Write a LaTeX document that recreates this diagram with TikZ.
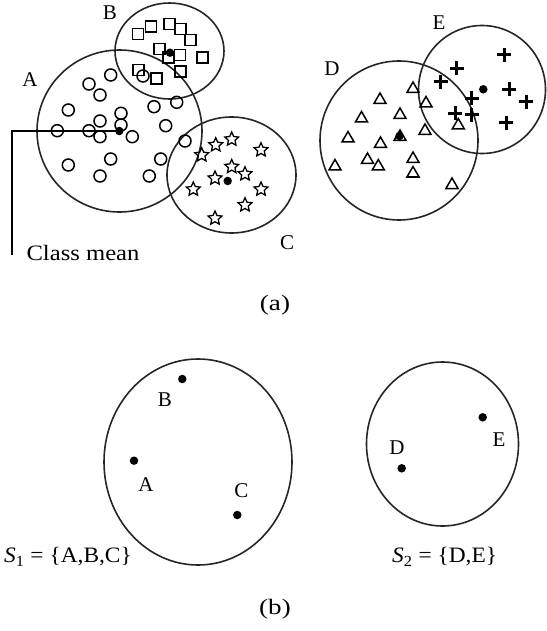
\documentclass[tikz,border=0pt]{standalone}
\usepackage{fontspec}
\setmainfont{Liberation Serif}
\usetikzlibrary{shapes.geometric}
\tikzset{
  txt/.style={inner sep=0pt, font=\fontsize{21}{25}\selectfont},
  bigtxt/.style={inner sep=0pt, font=\fontsize{22}{26}\selectfont, xscale=1.12},
  clus/.style={line width=1.6pt, draw=black!85},
  ring/.style={circle, draw, line width=1.5pt, minimum size=12pt, inner sep=0pt},
  sq/.style={rectangle, draw, line width=1.5pt, minimum size=11pt, inner sep=0pt},
  tri/.style={regular polygon, regular polygon sides=3, draw, line width=1.5pt, minimum size=14pt, inner sep=0pt},
  starm/.style={star, star points=5, star point ratio=2.1, draw, line width=1.3pt, minimum size=14.5pt, inner sep=0pt},
  meandot/.style={circle, fill=black, minimum size=8.5pt, inner sep=0pt},
  plusmark/.pic={\draw[line width=3pt] (-7,0)--(7,0) (0,-7)--(0,7);}
}
\begin{document}
\begin{tikzpicture}[x=1pt,y=-1pt]
\useasboundingbox (0,0) rectangle (546,631);
% ---------- (a) ----------
\draw[clus] (119.5,131) ellipse [x radius=82.5, y radius=81];
\draw[clus] (169.5,51) ellipse [x radius=54.5, y radius=48];
\draw[clus] (231.5,175) ellipse [x radius=64.5, y radius=58];
\draw[clus] (399,140.5) ellipse [x radius=79, y radius=79.5];
\draw[clus] (482,89.5) ellipse [x radius=63.5, y radius=64];

% class A circles
\foreach \x/\y [count=\i] in {110.7/75, 89/84, 100/95, 68.3/110, 154/106.7, 176.7/102.3,
  121/113.3, 100/121, 121/125, 165.7/125.7, 57.3/130.7, 89/130.7, 100/136.7, 132.3/136.7,
  185/141, 68.3/165, 110.7/159, 160.7/159, 100/176, 149.3/176, 143/76}
  \node[ring] (ca\i) at (\x,\y) {};
% class B squares
\foreach \x/\y [count=\i] in {138/34, 151/26.5, 169.5/24, 180.5/29, 190.5/40, 159.5/49,
  168.3/57.3, 180/55, 202.7/57.3, 138.3/70, 156.7/78.3, 180.7/71.7}
  \node[sq] (sb\i) at (\x,\y) {};
% class C stars
\foreach \x/\y [count=\i] in {231.7/139.3, 215.7/145, 201.7/155, 261/150, 231.7/166.7,
  245/174, 215/178.3, 193.3/189.3, 261/189.3, 245/205, 215/218.3}
  \node[starm] (sc\i) at (\x,\y) {};
% class D triangles
\foreach \x/\y [count=\i] in {413/87.5, 426/102, 380/98.5, 400/113.5, 361.5/117, 348/137,
  380.5/142.5, 425/129.5, 400/135.5, 367.5/158.5, 378.3/165, 413/157.5, 413/172, 335/165,
  452/183.5, 458.3/124}
  \node[tri] (td\i) at (\x,\y+1.5) {};
% class E plus signs
\foreach \x/\y in {504/55, 456.7/68.3, 440.7/81.7, 509.3/89.3, 526/101.7, 471.7/98.3,
  455/113.3, 471.7/115, 506/122.7}
  \pic at (\x,\y) {plusmark};

% means
\node[meandot] (mA) at (119.3,131) {};
\node[meandot] (mB) at (170,52.7) {};
\node[meandot] (mC) at (227.7,181) {};
\node[meandot] (mD) at (399.5,136) {};
\node[meandot] (mE) at (483.3,89.3) {};

% labels
\node[txt] (lA) at (30,80) {A};
\node[txt] (lB) at (110,13) {B};
\node[txt] (lC) at (287,243) {C};
\node[txt] (lD) at (332,69) {D};
\node[txt] (lE) at (439,23) {E};

\coordinate (cmEnd) at (12,255);
\draw[line width=1.6pt] (mA.center) -| (cmEnd);
\node[bigtxt] (cm) at (83,253) {Class mean};

\node[bigtxt, xscale=1.1] (la) at (275,305) {(a)};

% ---------- (b) ----------
\draw[clus] (198,462) ellipse [x radius=94, y radius=103];
\draw[clus] (442.5,444) ellipse [x radius=76, y radius=82];

\node[meandot] (pB) at (182.3,379) {};
\node[meandot] (pA) at (134,460.7) {};
\node[meandot] (pC) at (237.3,515) {};
\node[meandot] (pE) at (482.7,417.3) {};
\node[meandot] (pD) at (401.7,468.3) {};

\node[txt] (qB) at (165,399.5) {B};
\node[txt] (qA) at (146,485) {A};
\node[txt] (qC) at (241.3,491) {C};
\node[txt] (qD) at (397,447.5) {D};
\node[txt] (qE) at (499,440) {E};

\node[bigtxt, xscale=0.95, anchor=west] (s1) at (4,557) {\textit{S}\textsubscript{1} = \{A,B,C\}};
\node[bigtxt, xscale=0.95, anchor=west] (s2) at (392,557) {\textit{S}\textsubscript{2} = \{D,E\}};

\node[bigtxt, xscale=1.1] (lb) at (275,609) {(b)};
\end{tikzpicture}
\end{document}
